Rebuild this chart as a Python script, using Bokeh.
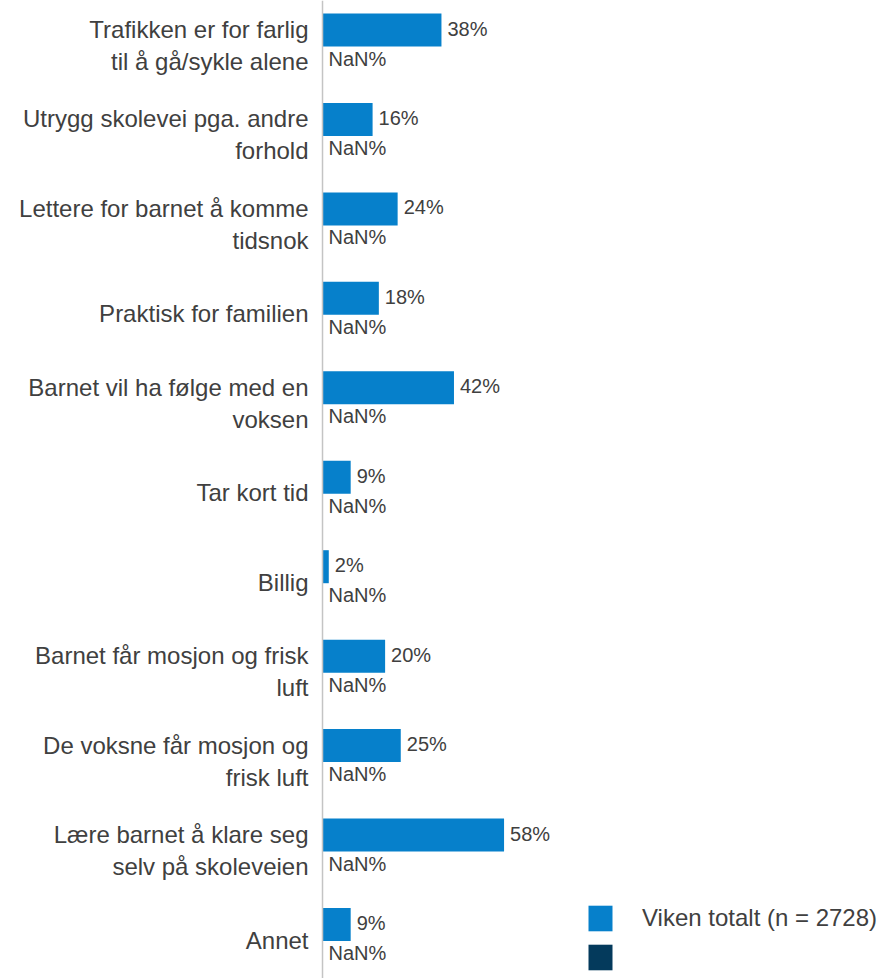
import numpy as np
from bokeh.plotting import figure
from bokeh.models import ColumnDataSource, Range1d, Span, Legend, LegendItem
from bokeh.core.properties import value
from bokeh.embed import file_html
from bokeh.resources import INLINE

categories = [
    "Trafikken er for farlig\ntil å gå/sykle alene",
    "Utrygg skolevei pga. andre\nforhold",
    "Lettere for barnet å komme\ntidsnok",
    "Praktisk for familien",
    "Barnet vil ha følge med en\nvoksen",
    "Tar kort tid",
    "Billig",
    "Barnet får mosjon og frisk\nluft",
    "De voksne får mosjon og\nfrisk luft",
    "Lære barnet å klare seg\nselv på skoleveien",
    "Annet",
]
viken_totalt = [38, 16, 24, 18, 42, 9, 2, 20, 25, 58, 9]
series2 = [np.nan] * len(categories)
series1_name = "Viken totalt (n = 2728)"
series2_name = " "

BLUE = "#0680cb"
NAVY = "#043a5c"
TEXT = "#404040"
FONT = "Liberation Sans"

n = len(categories)
idx = np.arange(n, dtype=float)
bar_h = 0.369

p = figure(width=880, height=978, output_backend="svg", toolbar_location=None,
           x_axis_location=None, y_axis_location=None,
           x_range=Range1d(-102.88, 178.27), y_range=Range1d(10.419, -0.5143),
           min_border=0, min_border_left=0, min_border_right=0,
           min_border_top=0, min_border_bottom=0)
p.outline_line_color = None
p.xgrid.visible = False
p.ygrid.visible = False

s1 = ColumnDataSource(dict(y=idx - bar_h / 2, v=viken_totalt,
                           lx=[0 if np.isnan(v) else v for v in viken_totalt],
                           lab=["NaN%" if np.isnan(v) else f"{v:.0f}%" for v in viken_totalt]))
s2 = ColumnDataSource(dict(y=idx + bar_h / 2, v=series2,
                           lx=[0 if np.isnan(v) else v for v in series2],
                           lab=["NaN%" if np.isnan(v) else f"{v:.0f}%" for v in series2]))

r1 = p.hbar(y="y", left=0, right="v", height=bar_h, source=s1, fill_color=BLUE, line_color=None)
r2 = p.hbar(y="y", left=0, right="v", height=bar_h, source=s2, fill_color=NAVY, line_color=None)

for s, yo in ((s1, -1.5), (s2, -4.5)):
    p.text(x="lx", y="y", text="lab", source=s, x_offset=6, y_offset=yo, text_align="left",
           text_baseline="middle", text_font=value(FONT), text_font_size="20px", text_color=TEXT)

# category labels (multi-line split)
lx, ly, lt = [], [], []
line_step = 0.3577
for i, c in enumerate(categories):
    lines = c.split("\n")
    for j, ln in enumerate(lines):
        lx.append(0)
        ly.append(i + (j - (len(lines) - 1) / 2) * line_step)
        lt.append(ln)
p.text(x=lx, y=ly, text=lt, x_offset=-14, y_offset=-1, text_align="right", text_baseline="middle",
       text_font=value(FONT), text_font_size="24px", text_color=TEXT)

p.add_layout(Span(location=0, dimension="height", line_color="#c4c4c4", line_width=1.5))

legend = Legend(items=[LegendItem(label=series1_name, renderers=[r1]),
                       LegendItem(label=series2_name, renderers=[r2])],
                location=(585, 5), orientation="vertical",
                glyph_width=30, glyph_height=32, label_height=32, label_standoff=27,
                spacing=7, padding=0, margin=0,
                label_text_font=FONT, label_text_font_size="24px", label_text_color=TEXT,
                border_line_color=None, background_fill_alpha=0)
p.add_layout(legend)

open("out.html", "w").write(file_html(p, INLINE))
